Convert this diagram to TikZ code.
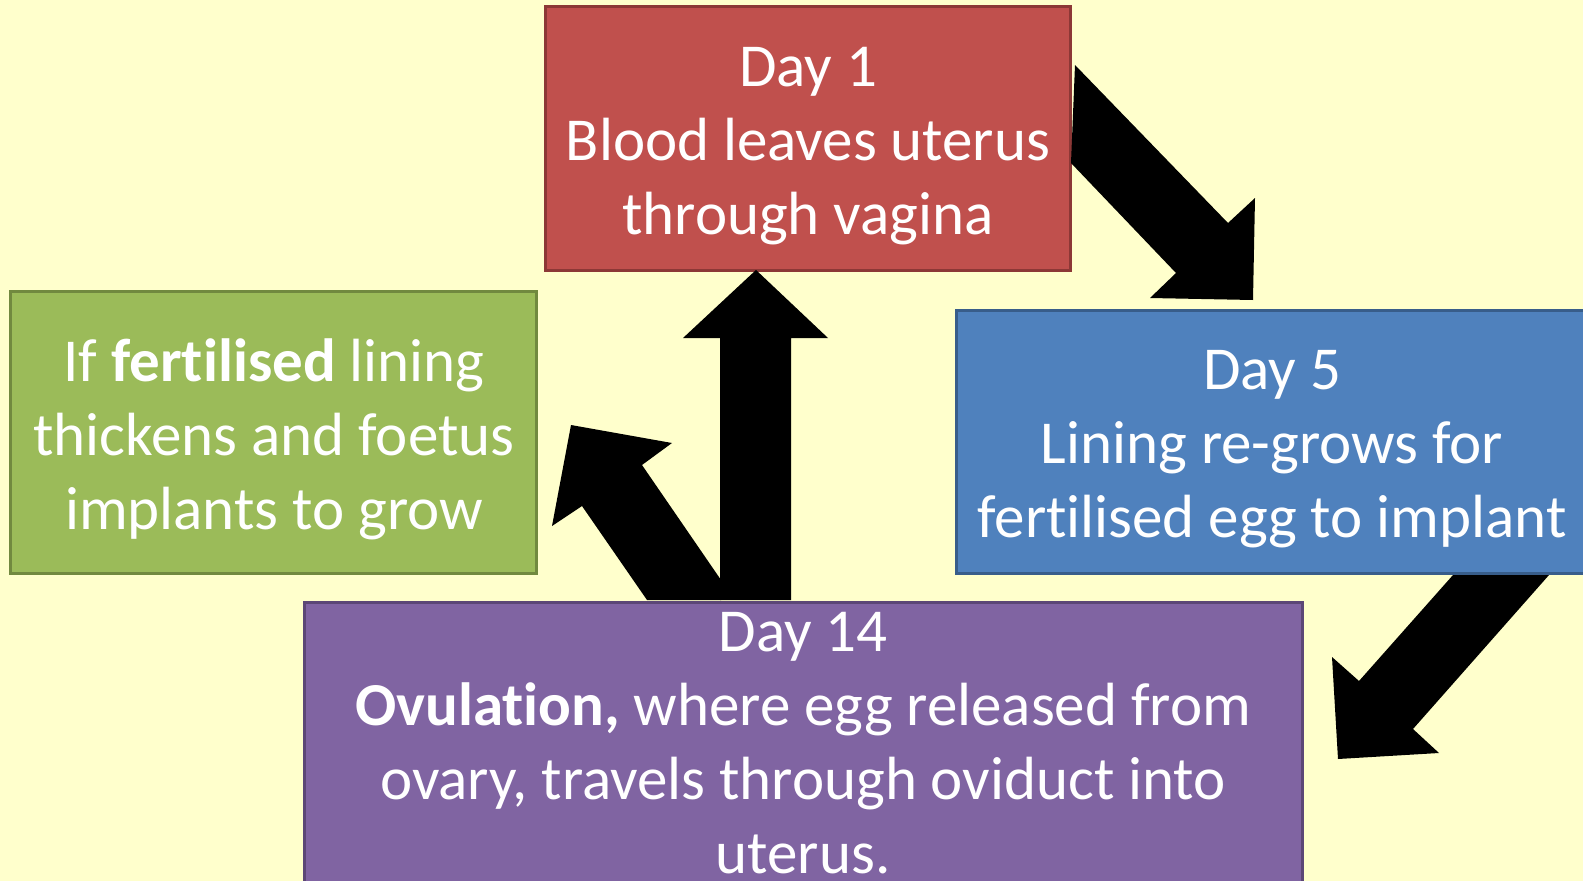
\documentclass[tikz,border=0pt]{standalone}
\usepackage{fontspec}
\setmainfont{Carlito}[RawFeature={-liga;-dlig}]
\definecolor{bg}{HTML}{FFFFCC}
\definecolor{redf}{HTML}{C0504D}
\definecolor{redd}{HTML}{8C3836}
\definecolor{greenf}{HTML}{9BBB59}
\definecolor{greend}{HTML}{71893F}
\definecolor{bluef}{HTML}{4F81BD}
\definecolor{blued}{HTML}{385D8A}
\definecolor{purplef}{HTML}{8064A2}
\definecolor{purpled}{HTML}{5C4776}
\tikzset{
  box/.style={draw, line width=3pt, rectangle, inner sep=0pt},
  txt/.style={text=white, align=center, inner sep=0pt, anchor=base,
    font=\fontsize{61}{74}\selectfont},
  blockarrow/.style={fill=black}
}
\begin{document}
\begin{tikzpicture}[x=1pt,y=-1pt]
\useasboundingbox (0,0) rectangle (1583,881);
\fill[bg] (0,0) rectangle (1583,881);
% boxes
\node[box, fill=redf, draw=redd, minimum width=525pt, minimum height=264pt] (red) at (807.5,138) {};
\node[box, fill=greenf, draw=greend, minimum width=526pt, minimum height=282pt] (green) at (273,432) {};
\node[box, fill=bluef, draw=blued, minimum width=632pt, minimum height=263pt] (blue) at (1272,441.5) {};
\node[box, fill=purplef, draw=purpled, minimum width=998pt, minimum height=300pt] (purple) at (803,752) {};
% texts (base anchor = baseline of the last line)
\node[txt] (redtext) at (808,234) {Day 1\\Blood leaves uterus\\through vagina};
\node[txt] (greentext) at (274,529) {If \textbf{fertilised} lining\\thickens and foetus\\implants to grow};
\node[txt] (bluetext) at (1272,537) {Day 5\\Lining re-grows for\\fertilised egg to implant};
\node[txt] (purpletext) at (803,873) {Day 14\\\textbf{Ovulation,} where egg released from\\ovary, travels through oviduct into\\uterus.};
% arrows
\fill[blockarrow] (1075,65) -- (1228,223) -- (1255,198) -- (1253,300) -- (1150,298) -- (1176,273) -- (1071,163) -- cycle;
\fill[blockarrow] (720,600) -- (720,338) -- (683,338) -- (756,270) -- (828,338) -- (791,338) -- (791,600) -- cycle;
\fill[blockarrow] (647,600) -- (582,506) -- (552,526) -- (571,425) -- (672,443) -- (642,465) -- (721,580) -- (721,600) -- cycle;
\fill[blockarrow] (1453,575) -- (1549,575) -- (1413,729) -- (1439,753) -- (1338,759) -- (1332,657) -- (1359,681) -- cycle;
\end{tikzpicture}
\end{document}
